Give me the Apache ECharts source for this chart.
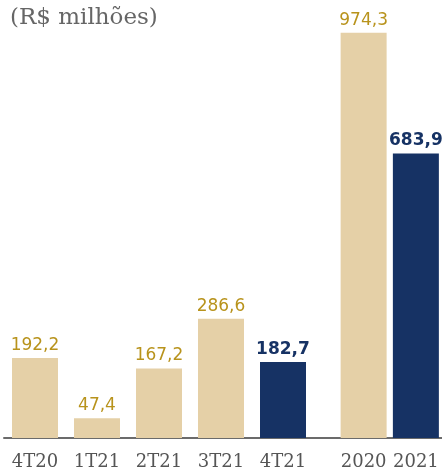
<!DOCTYPE html>
<html>
<head>
<meta charset="utf-8">
<script src="https://cdn.jsdelivr.net/npm/echarts@6/dist/echarts.min.js"></script>
<style>
  html, body { margin: 0; padding: 0; background: #fff; }
  #main { width: 442px; height: 472px; }
</style>
</head>
<body>
<div id="main"></div>
<script>
// trimestres
var quarters = ['4T20', '1T21', '2T21', '3T21', '4T21'];
var quarterValues = [192.2, 47.4, 167.2, 286.6, 182.7];
// anos
var years = ['2020', '2021'];
var yearValues = [974.3, 683.9];

var beige = '#E5D0A7';
var navy = '#163264';
var gold = '#B8931C';

function fmt(v) {
    return v.toFixed(1).replace('.', ',');
}

// the last item of each series is highlighted in navy
function barData(values) {
    return values.map(function (v, i) {
        var last = i === values.length - 1;
        return {
            value: v,
            itemStyle: { color: last ? navy : beige },
            label: {
                color: last ? navy : gold,
                fontWeight: last ? 'bold' : 'normal'
            }
        };
    });
}

var myChart = echarts.init(document.getElementById('main'));

var axisLabel = {
    color: '#555555',
    fontFamily: 'DejaVu Serif',
    fontSize: 18,
    margin: 15,
    interval: 0,
    hideOverlap: false
};
var axisLine = { show: true, lineStyle: { color: '#6b6b6b', width: 2 } };
var barLabel = {
    show: true,
    position: 'top',
    distance: 4,
    fontFamily: 'DejaVu Sans',
    fontSize: 17,
    formatter: function (p) { return fmt(p.value); }
};

option = {
    animation: false,
    title: {
        text: '(R$ milhões)',
        left: 5,
        top: 2,
        textStyle: {
            color: '#666666',
            fontFamily: 'DejaVu Serif',
            fontWeight: 'normal',
            fontSize: 23
        }
    },
    grid: [
        { left: 4, width: 372, top: 22, bottom: 34 },
        { left: 337.5, width: 106, top: 22, bottom: 34 }
    ],
    xAxis: [
        {
            type: 'category',
            gridIndex: 0,
            data: quarters.concat(['']),
            axisTick: { show: false },
            axisLine: axisLine,
            axisLabel: axisLabel
        },
        {
            type: 'category',
            gridIndex: 1,
            data: years,
            axisTick: { show: false },
            axisLine: axisLine,
            axisLabel: axisLabel
        }
    ],
    yAxis: [
        { type: 'value', gridIndex: 0, min: 0, max: 1000, show: false },
        { type: 'value', gridIndex: 1, min: 0, max: 1000, show: false }
    ],
    series: [
        {
            type: 'bar',
            xAxisIndex: 0,
            yAxisIndex: 0,
            barWidth: 46,
            data: barData(quarterValues),
            label: barLabel
        },
        {
            type: 'bar',
            xAxisIndex: 1,
            yAxisIndex: 1,
            barWidth: 46,
            data: barData(yearValues),
            label: barLabel
        }
    ]
};
myChart.setOption(option);
</script>
</body>
</html>
